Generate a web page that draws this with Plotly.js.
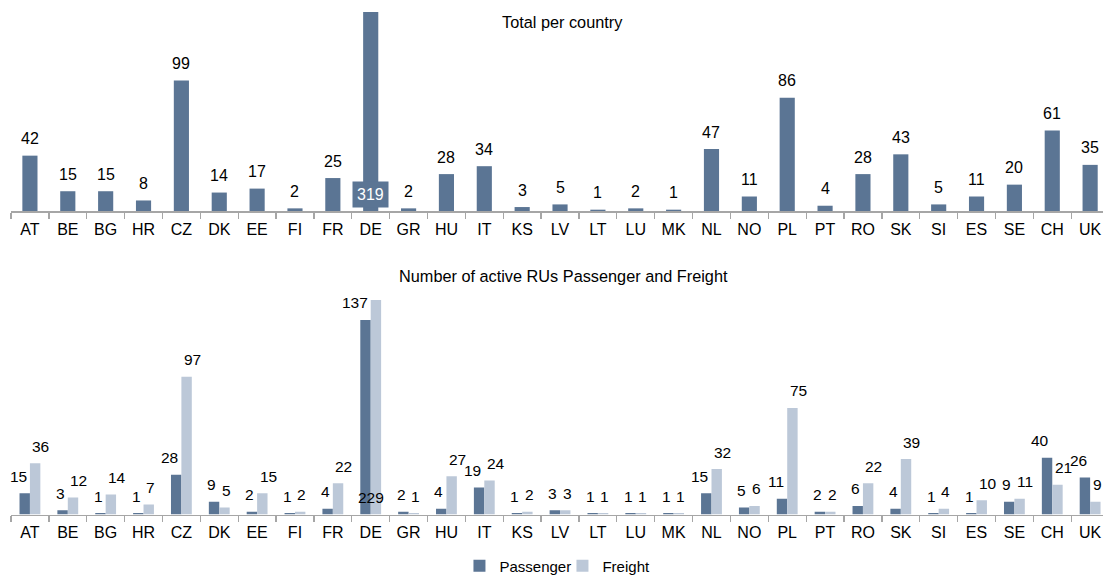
<!DOCTYPE html>
<html><head><meta charset="utf-8">
<script src="https://cdn.plot.ly/plotly-3.0.1.min.js"></script>
<style>html,body{margin:0;padding:0;background:#fff}#chart{width:1103px;height:577px}</style>
</head><body><div id="chart"></div><script>
const countries = ['AT','BE','BG','HR','CZ','DK','EE','FI','FR','DE','GR','HU','IT','KS','LV','LT','LU','MK','NL','NO','PL','PT','RO','SK','SI','ES','SE','CH','UK'];
const totalPerCountry = [42,15,15,8,99,14,17,2,25,319,2,28,34,3,5,1,2,1,47,11,86,4,28,43,5,11,20,61,35];
const passenger = [15,3,1,1,28,9,2,1,4,137,2,4,19,1,3,1,1,1,15,5,11,2,6,4,1,1,9,40,26];
const freight = [36,12,14,7,97,5,15,2,22,229,1,27,24,2,3,1,1,1,32,6,75,2,22,39,4,10,11,21,9];
const topTitle = 'Total per country';
const bottomTitle = 'Number of active RUs Passenger and Freight';

const DARK = '#5B7594', LIGHT = '#BCC8D8';
const YMAX = 151;
const FONT = 'Liberation Sans, Arial, sans-serif';

function labels(xref, yref, vals, anchor, xshift, boxed, size) {
  return vals.map((v, i) => {
    const over = v > YMAX;
    const a = {
      xref: xref, yref: yref, x: countries[i], y: over ? 0 : v,
      text: String(v), showarrow: false, yanchor: 'middle', yshift: 17,
      xanchor: over ? 'center' : anchor, xshift: over ? 0 : xshift,
      font: {family: FONT, size: size, color: '#000'}
    };
    if (over && boxed) {
      a.bgcolor = DARK; a.font = {family: FONT, size: size, color: '#fff'}; a.borderpad = 4;
    }
    return a;
  });
}

const traces = [
  {type: 'bar', x: countries, y: totalPerCountry, xaxis: 'x', yaxis: 'y', width: 0.4,
   marker: {color: DARK}, showlegend: false, hoverinfo: 'x+y'},
  {type: 'bar', name: 'Passenger', x: countries, y: passenger, xaxis: 'x2', yaxis: 'y2',
   marker: {color: DARK}},
  {type: 'bar', name: 'Freight', x: countries, y: freight, xaxis: 'x2', yaxis: 'y2',
   marker: {color: LIGHT}}
];

const xBase = {
  type: 'category', range: [-0.5, 28.34], tickson: 'boundaries', ticks: 'outside', ticklen: 6,
  tickcolor: '#A6A6A6', tickwidth: 1.3, showline: true, linecolor: '#A6A6A6', linewidth: 1.5,
  ticklabelstandoff: 3, automargin: false,
  tickfont: {family: FONT, size: 16, color: '#000'}, showgrid: false, zeroline: false, fixedrange: true
};
const yBase = {range: [0, YMAX], showticklabels: false, showgrid: false, zeroline: false, showline: false, ticks: ''};

const annotations = []
  .concat(labels('x', 'y', totalPerCountry, 'center', 0, true, 16))
  .concat(labels('x2', 'y2', passenger, 'right', -1, false, 15.5))
  .concat(labels('x2', 'y2', freight, 'left', 0.5, false, 15.5))
  .concat([
    {xref: 'paper', yref: 'paper', x: 0.505, y: 1 - 22/577, xanchor: 'center', yanchor: 'middle',
     text: topTitle, showarrow: false, font: {family: FONT, size: 16.3, color: '#000'}},
    {xref: 'paper', yref: 'paper', x: 0.506, y: 1 - 276/577, xanchor: 'center', yanchor: 'middle',
     text: bottomTitle, showarrow: false, font: {family: FONT, size: 16.3, color: '#000'}}
  ]);

const layout = {
  width: 1103, height: 577,
  margin: {l: 11, r: 0, t: 0, b: 0, autoexpand: false},
  paper_bgcolor: '#fff', plot_bgcolor: '#fff',
  barmode: 'group', bargap: 0.45, bargroupgap: 0,
  xaxis: Object.assign({}, xBase, {anchor: 'y'}),
  yaxis: Object.assign({}, yBase, {domain: [1 - 211/577, 1 - 12/577], anchor: 'x'}),
  xaxis2: Object.assign({}, xBase, {anchor: 'y2'}),
  yaxis2: Object.assign({}, yBase, {domain: [1 - 514.5/577, 1 - 300/577], anchor: 'x2'}),
  showlegend: true,
  legend: {orientation: 'h', x: 0.505, xanchor: 'center', y: 1 - 566/577, yanchor: 'middle',
           font: {family: FONT, size: 15, color: '#000'}, itemwidth: 30, entrywidth: 58,
           traceorder: 'normal'},
  annotations: annotations,
  font: {family: FONT}
};

Plotly.newPlot('chart', traces, layout, {displayModeBar: false, staticPlot: true});
</script></body></html>
